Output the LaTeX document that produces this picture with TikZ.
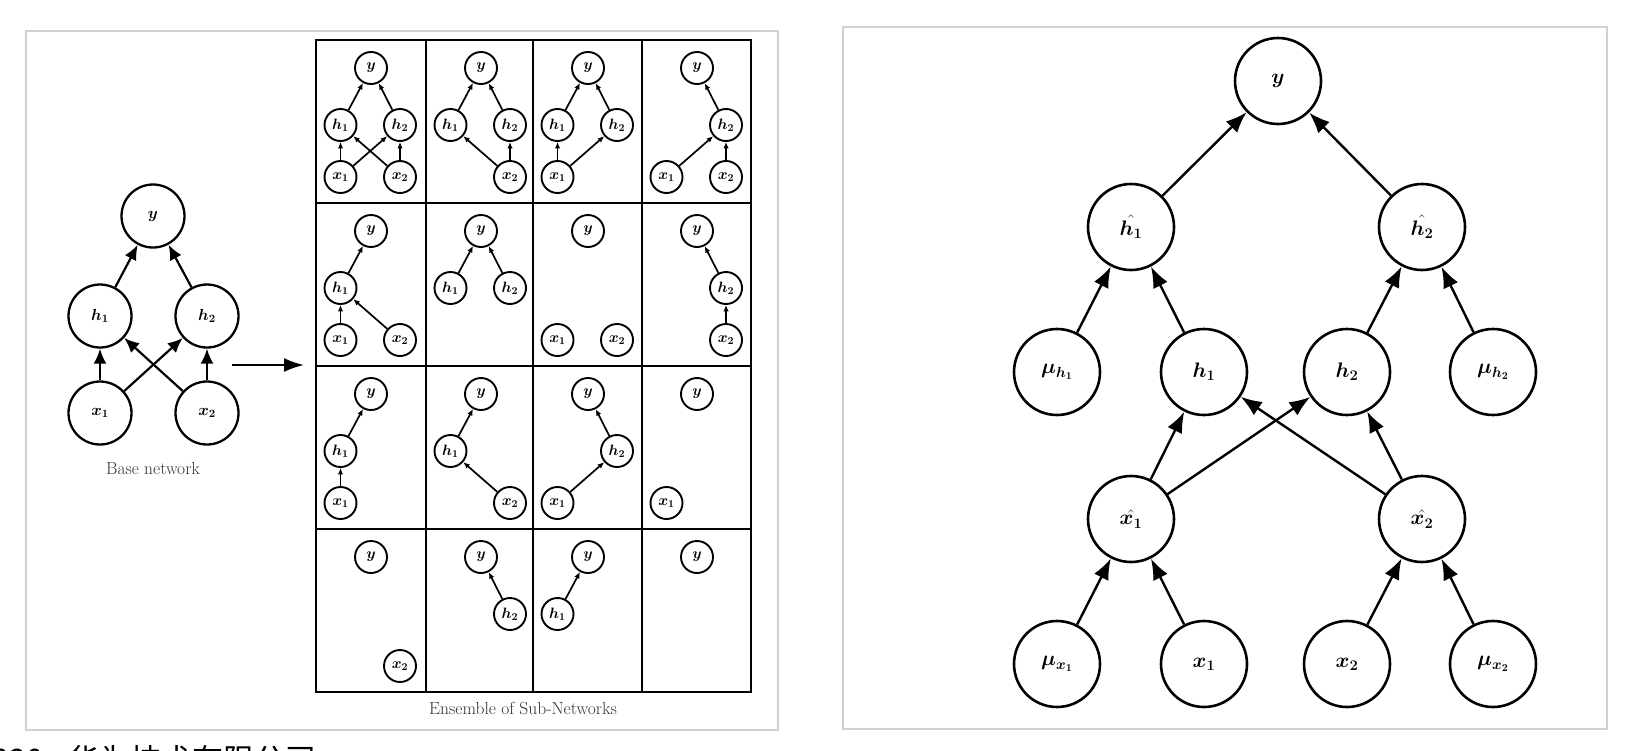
\RequirePackage{fix-cm}
\documentclass[tikz,border=0pt]{standalone}
\usepackage{amsmath}
\usepackage{fontspec}
\newfontfamily\cjk{Noto Sans CJK SC}
\usetikzlibrary{arrows.meta,calc}

\newcommand\sny[1]{\node[sn] (#1y) at ([shift={(55,28)}]#1) {$\boldsymbol{y}$};}
\newcommand\snha[1]{\node[sn] (#1ha) at ([shift={(24.5,85)}]#1) {$\boldsymbol{h_1}$};}
\newcommand\snhb[1]{\node[sn] (#1hb) at ([shift={(84,85)}]#1) {$\boldsymbol{h_2}$};}
\newcommand\snxa[1]{\node[sn] (#1xa) at ([shift={(24.5,137)}]#1) {$\boldsymbol{x_1}$};}
\newcommand\snxb[1]{\node[sn] (#1xb) at ([shift={(84,137)}]#1) {$\boldsymbol{x_2}$};}
\newcommand\subedge[3]{\draw[sa] (#1#2) -- (#1#3);}

\begin{document}
\begin{tikzpicture}[x=1pt,y=-1pt,
  panel/.style={draw=black!18,line width=2pt},
  bn/.style={circle,draw,line width=2.3pt,minimum size=63pt,inner sep=0pt,
    font=\fontsize{16pt}{18pt}\selectfont},
  sn/.style={circle,draw,line width=1.9pt,minimum size=32pt,inner sep=0pt,
    font=\fontsize{15pt}{17pt}\selectfont},
  rn/.style={circle,draw,line width=2.6pt,minimum size=86pt,inner sep=0pt,
    font=\fontsize{21pt}{23pt}\selectfont},
  ba/.style={-{Latex[length=15pt,width=13pt]},line width=2.2pt},
  sa/.style={-{Latex[length=6.5pt,width=5.5pt]},line width=1.7pt},
  ra/.style={-{Latex[length=21pt,width=16pt]},line width=2.4pt},
  gridl/.style={line width=2pt},
  captext/.style={text=black!80,font=\fontsize{17.5pt}{20pt}\selectfont},
]
\useasboundingbox (0,0) rectangle (1625,750);
\fill[white] (0,0) rectangle (1625,750);
\clip (0,0) rectangle (1625,750);

% panels
\draw[panel] (26,31) rectangle (778,730);
\draw[panel] (843,27) rectangle (1607,729);

% base network
\node[bn] (by) at (153,216) {$\boldsymbol{y}$};
\node[bn] (bh1) at (100,316) {$\boldsymbol{h_1}$};
\node[bn] (bh2) at (207,316) {$\boldsymbol{h_2}$};
\node[bn] (bx1) at (100,413) {$\boldsymbol{x_1}$};
\node[bn] (bx2) at (207,413) {$\boldsymbol{x_2}$};
\node[captext] (bcap) at (153,468) {Base network};
\draw[ba] (bh1) -- (by);
\draw[ba] (bh2) -- (by);
\draw[ba] (bx1) -- (bh1);
\draw[ba] (bx2) -- (bh2);
\draw[ba] (bx1) -- (bh2);
\draw[ba] (bx2) -- (bh1);

% arrow to ensemble
\coordinate (as) at (232,365);
\coordinate (ae) at (304,365);
\draw[-{Latex[length=20pt,width=14pt]},line width=2.2pt] (as) -- (ae);

% ensemble grid
\draw[gridl] (316,40) rectangle (751,692);
\draw[gridl] (426,40) -- (426,692) (533,40) -- (533,692) (642,40) -- (642,692);
\draw[gridl] (316,203) -- (751,203) (316,366) -- (751,366) (316,529) -- (751,529);
\node[captext] (ecap) at (523,708) {Ensemble of Sub-Networks};

\coordinate (ca) at (316,40);  \coordinate (cb) at (426,40);
\coordinate (cc) at (533,40);  \coordinate (cd) at (642,40);
\coordinate (ce) at (316,203); \coordinate (cf) at (426,203);
\coordinate (cg) at (533,203); \coordinate (ch) at (642,203);
\coordinate (ci) at (316,366); \coordinate (cj) at (426,366);
\coordinate (ck) at (533,366); \coordinate (cl) at (642,366);
\coordinate (cm) at (316,529); \coordinate (cn) at (426,529);
\coordinate (co) at (533,529); \coordinate (cp) at (642,529);

% row 1
\sny{ca}\snha{ca}\snhb{ca}\snxa{ca}\snxb{ca}
\subedge{ca}{ha}{y}\subedge{ca}{hb}{y}\subedge{ca}{xa}{ha}\subedge{ca}{xb}{hb}\subedge{ca}{xa}{hb}\subedge{ca}{xb}{ha}
\sny{cb}\snha{cb}\snhb{cb}\snxb{cb}
\subedge{cb}{ha}{y}\subedge{cb}{hb}{y}\subedge{cb}{xb}{ha}\subedge{cb}{xb}{hb}
\sny{cc}\snha{cc}\snhb{cc}\snxa{cc}
\subedge{cc}{ha}{y}\subedge{cc}{hb}{y}\subedge{cc}{xa}{ha}\subedge{cc}{xa}{hb}
\sny{cd}\snhb{cd}\snxa{cd}\snxb{cd}
\subedge{cd}{hb}{y}\subedge{cd}{xa}{hb}\subedge{cd}{xb}{hb}
% row 2
\sny{ce}\snha{ce}\snxa{ce}\snxb{ce}
\subedge{ce}{ha}{y}\subedge{ce}{xa}{ha}\subedge{ce}{xb}{ha}
\sny{cf}\snha{cf}\snhb{cf}
\subedge{cf}{ha}{y}\subedge{cf}{hb}{y}
\sny{cg}\snxa{cg}\snxb{cg}
\sny{ch}\snhb{ch}\snxb{ch}
\subedge{ch}{hb}{y}\subedge{ch}{xb}{hb}
% row 3
\sny{ci}\snha{ci}\snxa{ci}
\subedge{ci}{ha}{y}\subedge{ci}{xa}{ha}
\sny{cj}\snha{cj}\snxb{cj}
\subedge{cj}{ha}{y}\subedge{cj}{xb}{ha}
\sny{ck}\snhb{ck}\snxa{ck}
\subedge{ck}{hb}{y}\subedge{ck}{xa}{hb}
\sny{cl}\snxa{cl}
% row 4
\sny{cm}\snxb{cm}
\sny{cn}\snhb{cn}
\subedge{cn}{hb}{y}
\sny{co}\snha{co}
\subedge{co}{ha}{y}
\sny{cp}

% right network
\node[rn] (ry) at (1278,81) {$\boldsymbol{y}$};
\node[rn] (rhh1) at (1131,227) {$\hat{\boldsymbol{h_1}}$};
\node[rn] (rhh2) at (1422,227) {$\hat{\boldsymbol{h_2}}$};
\node[rn] (rmh1) at (1057,372) {$\boldsymbol{\mu_{h_1}}$};
\node[rn] (rh1) at (1204,372) {$\boldsymbol{h_1}$};
\node[rn] (rh2) at (1347,372) {$\boldsymbol{h_2}$};
\node[rn] (rmh2) at (1493,372) {$\boldsymbol{\mu_{h_2}}$};
\node[rn] (rxh1) at (1131,519) {$\hat{\boldsymbol{x_1}}$};
\node[rn] (rxh2) at (1422,519) {$\hat{\boldsymbol{x_2}}$};
\node[rn] (rmx1) at (1057,664) {$\boldsymbol{\mu_{x_1}}$};
\node[rn] (rx1) at (1204,664) {$\boldsymbol{x_1}$};
\node[rn] (rx2) at (1347,664) {$\boldsymbol{x_2}$};
\node[rn] (rmx2) at (1493,664) {$\boldsymbol{\mu_{x_2}}$};
\draw[ra] (rhh1) -- (ry);
\draw[ra] (rhh2) -- (ry);
\draw[ra] (rmh1) -- (rhh1);
\draw[ra] (rh1) -- (rhh1);
\draw[ra] (rh2) -- (rhh2);
\draw[ra] (rmh2) -- (rhh2);
\draw[ra] (rxh1) -- (rh1);
\draw[ra] (rxh1) -- (rh2);
\draw[ra] (rxh2) -- (rh1);
\draw[ra] (rxh2) -- (rh2);
\draw[ra] (rmx1) -- (rxh1);
\draw[ra] (rx1) -- (rxh1);
\draw[ra] (rx2) -- (rxh2);
\draw[ra] (rmx2) -- (rxh2);

% footer text (cut by the page edge)
\node[anchor=base west,inner sep=0pt,font=\cjk\fontsize{31pt}{31pt}\selectfont] (foot) at (-25,771) {2020\hspace{24pt}华为技术有限公司};
\end{tikzpicture}
\end{document}
